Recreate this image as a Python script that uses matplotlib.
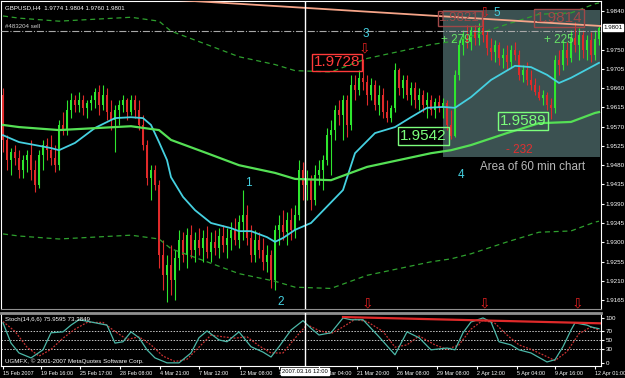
import matplotlib
matplotlib.use('Agg')
import matplotlib.pyplot as plt
from matplotlib.patches import Rectangle
import numpy as np

# GBPUSD H4 candles
opens = [1.9644, 1.9539, 1.9492, 1.9511, 1.9497, 1.9469, 1.9492, 1.9504, 1.9469, 1.9434,
         1.9504, 1.9527, 1.9515, 1.9497, 1.9480, 1.9574, 1.9562, 1.9609, 1.9632, 1.9621,
         1.9632, 1.9614, 1.9625, 1.9632, 1.9651, 1.9621, 1.9644, 1.9604, 1.9586, 1.9609,
         1.9621, 1.9632, 1.9604, 1.9632, 1.9609, 1.9574, 1.9527, 1.9450, 1.9469, 1.9434,
         1.9270, 1.9224, 1.9247, 1.9212, 1.9263, 1.9305, 1.9270, 1.9317, 1.9282, 1.9305,
         1.9287, 1.9310, 1.9277, 1.9301, 1.9287, 1.9315, 1.9294, 1.9310, 1.9329, 1.9305,
         1.9347, 1.9364, 1.9310, 1.9270, 1.9305, 1.9282, 1.9254, 1.9270, 1.9212, 1.9329,
         1.9340, 1.9324, 1.9352, 1.9329, 1.9364, 1.9469, 1.9434, 1.9445, 1.9399, 1.9457,
         1.9469, 1.9492, 1.9550, 1.9562, 1.9609, 1.9597, 1.9632, 1.9574, 1.9667, 1.9656,
         1.9684, 1.9674, 1.9644, 1.9667, 1.9621, 1.9644, 1.9604, 1.9590, 1.9614, 1.9702,
         1.9660, 1.9679, 1.9644, 1.9660, 1.9632, 1.9644, 1.9621, 1.9632, 1.9609, 1.9628,
         1.9614, 1.9625, 1.9574, 1.9548, 1.9691, 1.9761, 1.9777, 1.9768, 1.9796, 1.9777,
         1.9800, 1.9784, 1.9754, 1.9744, 1.9761, 1.9730, 1.9737, 1.9721, 1.9749, 1.9737,
         1.9691, 1.9702, 1.9679, 1.9667, 1.9651, 1.9637, 1.9644, 1.9621, 1.9614, 1.9726,
         1.9714, 1.9749, 1.9730, 1.9777, 1.9761, 1.9784, 1.9749, 1.9772, 1.9737, 1.9774]
highs = [1.9660, 1.9550, 1.9520, 1.9527, 1.9515, 1.9504, 1.9515, 1.9539, 1.9492, 1.9515,
         1.9539, 1.9543, 1.9550, 1.9527, 1.9586, 1.9604, 1.9632, 1.9649, 1.9644, 1.9651,
         1.9644, 1.9632, 1.9644, 1.9660, 1.9667, 1.9667, 1.9660, 1.9632, 1.9621, 1.9632,
         1.9644, 1.9637, 1.9644, 1.9644, 1.9632, 1.9597, 1.9539, 1.9480, 1.9480, 1.9445,
         1.9305, 1.9270, 1.9294, 1.9282, 1.9329, 1.9324, 1.9333, 1.9340, 1.9324, 1.9333,
         1.9329, 1.9338, 1.9324, 1.9329, 1.9333, 1.9340, 1.9333, 1.9347, 1.9357, 1.9364,
         1.9422, 1.9387, 1.9340, 1.9329, 1.9324, 1.9310, 1.9294, 1.9282, 1.9340, 1.9364,
         1.9375, 1.9371, 1.9380, 1.9387, 1.9492, 1.9487, 1.9469, 1.9457, 1.9480, 1.9492,
         1.9504, 1.9567, 1.9586, 1.9621, 1.9632, 1.9644, 1.9644, 1.9691, 1.9691, 1.9702,
         1.9728, 1.9691, 1.9684, 1.9679, 1.9667, 1.9660, 1.9632, 1.9621, 1.9719, 1.9707,
         1.9691, 1.9691, 1.9674, 1.9674, 1.9660, 1.9656, 1.9651, 1.9644, 1.9637, 1.9644,
         1.9637, 1.9632, 1.9609, 1.9702, 1.9772, 1.9796, 1.9807, 1.9805, 1.9807, 1.9812,
         1.9821, 1.9796, 1.9777, 1.9772, 1.9768, 1.9754, 1.9761, 1.9761, 1.9768, 1.9749,
         1.9714, 1.9721, 1.9702, 1.9684, 1.9667, 1.9656, 1.9651, 1.9637, 1.9737, 1.9749,
         1.9772, 1.9768, 1.9796, 1.9814, 1.9800, 1.9796, 1.9784, 1.9791, 1.9796, 1.9804]
lows = [1.9511, 1.9469, 1.9457, 1.9480, 1.9450, 1.9450, 1.9464, 1.9445, 1.9417, 1.9427,
        1.9469, 1.9492, 1.9480, 1.9464, 1.9469, 1.9550, 1.9550, 1.9590, 1.9604, 1.9604,
        1.9597, 1.9590, 1.9609, 1.9614, 1.9597, 1.9609, 1.9586, 1.9562, 1.9511, 1.9574,
        1.9604, 1.9586, 1.9597, 1.9590, 1.9562, 1.9515, 1.9434, 1.9399, 1.9422, 1.9240,
        1.9189, 1.9161, 1.9177, 1.9165, 1.9235, 1.9254, 1.9240, 1.9263, 1.9254, 1.9270,
        1.9254, 1.9263, 1.9254, 1.9270, 1.9263, 1.9277, 1.9263, 1.9282, 1.9294, 1.9287,
        1.9305, 1.9294, 1.9254, 1.9254, 1.9263, 1.9235, 1.9231, 1.9193, 1.9189, 1.9294,
        1.9305, 1.9294, 1.9305, 1.9310, 1.9352, 1.9399, 1.9399, 1.9375, 1.9387, 1.9434,
        1.9422, 1.9480, 1.9457, 1.9539, 1.9574, 1.9539, 1.9546, 1.9562, 1.9632, 1.9644,
        1.9656, 1.9621, 1.9632, 1.9609, 1.9597, 1.9590, 1.9581, 1.9581, 1.9604, 1.9644,
        1.9637, 1.9632, 1.9621, 1.9614, 1.9609, 1.9604, 1.9590, 1.9597, 1.9590, 1.9604,
        1.9590, 1.9562, 1.9542, 1.9546, 1.9679, 1.9737, 1.9754, 1.9749, 1.9761, 1.9761,
        1.9768, 1.9737, 1.9726, 1.9721, 1.9714, 1.9707, 1.9702, 1.9707, 1.9726, 1.9679,
        1.9674, 1.9667, 1.9656, 1.9644, 1.9632, 1.9621, 1.9609, 1.9589, 1.9602, 1.9691,
        1.9702, 1.9714, 1.9721, 1.9744, 1.9726, 1.9730, 1.9726, 1.9721, 1.9726, 1.9760]
closes = [1.9539, 1.9492, 1.9511, 1.9497, 1.9469, 1.9492, 1.9504, 1.9469, 1.9434, 1.9504,
          1.9527, 1.9515, 1.9497, 1.9480, 1.9574, 1.9562, 1.9609, 1.9632, 1.9621, 1.9632,
          1.9614, 1.9625, 1.9632, 1.9651, 1.9621, 1.9644, 1.9604, 1.9586, 1.9609, 1.9621,
          1.9632, 1.9604, 1.9632, 1.9609, 1.9574, 1.9527, 1.9450, 1.9469, 1.9434, 1.9270,
          1.9224, 1.9247, 1.9212, 1.9263, 1.9305, 1.9270, 1.9317, 1.9282, 1.9305, 1.9287,
          1.9310, 1.9277, 1.9301, 1.9287, 1.9315, 1.9294, 1.9310, 1.9329, 1.9305, 1.9347,
          1.9364, 1.9310, 1.9270, 1.9305, 1.9282, 1.9254, 1.9270, 1.9212, 1.9329, 1.9340,
          1.9324, 1.9352, 1.9329, 1.9364, 1.9469, 1.9434, 1.9445, 1.9399, 1.9457, 1.9469,
          1.9492, 1.9550, 1.9562, 1.9609, 1.9597, 1.9632, 1.9574, 1.9667, 1.9656, 1.9684,
          1.9674, 1.9644, 1.9667, 1.9621, 1.9644, 1.9604, 1.9590, 1.9614, 1.9702, 1.9660,
          1.9679, 1.9644, 1.9660, 1.9632, 1.9644, 1.9621, 1.9632, 1.9609, 1.9628, 1.9614,
          1.9625, 1.9574, 1.9548, 1.9691, 1.9761, 1.9777, 1.9768, 1.9796, 1.9777, 1.9800,
          1.9784, 1.9754, 1.9744, 1.9761, 1.9730, 1.9737, 1.9721, 1.9749, 1.9737, 1.9691,
          1.9702, 1.9679, 1.9667, 1.9651, 1.9637, 1.9644, 1.9621, 1.9614, 1.9726, 1.9714,
          1.9749, 1.9730, 1.9777, 1.9761, 1.9784, 1.9749, 1.9772, 1.9737, 1.9774, 1.9801]

# moving averages (cyan fast, green slow) and envelope deviation
fast_idx = [0, 4, 12, 14, 18, 23, 28, 32, 35, 37, 39, 41, 42, 45, 48, 52, 57, 59, 62, 66,
            68, 70, 73, 77, 85, 88, 93, 98, 102, 106, 110, 113, 117, 122, 128, 132, 136,
            139, 142, 147, 149]
fast_ma = [1.9550, 1.9534, 1.9520, 1.9515, 1.9532, 1.9567, 1.9590, 1.9592, 1.9590, 1.9574,
           1.9534, 1.9492, 1.9452, 1.9406, 1.9375, 1.9345, 1.9333, 1.9326, 1.9326, 1.9312,
           1.9301, 1.9310, 1.9329, 1.9345, 1.9422, 1.9508, 1.9555, 1.9569, 1.9592, 1.9614,
           1.9616, 1.9614, 1.9639, 1.9679, 1.9712, 1.9709, 1.9691, 1.9672, 1.9684, 1.9709,
           1.9719]
slow_idx = [0, 4, 14, 24, 32, 39, 42, 51, 59, 68, 73, 82, 91, 99, 107, 112, 117, 126, 134,
            142, 148, 149]
slow_ma = [1.9574, 1.9569, 1.9562, 1.9567, 1.9571, 1.9562, 1.9539, 1.9508, 1.9480, 1.9462,
           1.9448, 1.9445, 1.9476, 1.9492, 1.9508, 1.9515, 1.9527, 1.9555, 1.9578, 1.9581,
           1.9602, 1.9604]
env_dev = 0.013

# stochastic (14,6,6)
st_idx = [0, 2, 4, 7, 10, 12, 15, 17, 19, 22, 26, 28, 30, 32, 34, 36, 38, 41, 44, 47, 49,
          51, 54, 56, 59, 62, 65, 67, 69, 72, 75, 77, 79, 82, 85, 87, 90, 94, 98, 101, 104,
          107, 111, 113, 115, 117, 120, 122, 124, 127, 129, 132, 136, 138, 140, 142, 143,
          146, 147, 149]
st_main = [89, 44, 22, 11, 29, 67, 69, 84, 96, 91, 84, 44, 47, 69, 56, 29, 11, 0, 0, 22, 56,
           71, 51, 47, 69, 36, 24, 13, 36, 73, 94, 77, 62, 67, 100, 96, 96, 58, 18, 69, 56,
           29, 33, 29, 67, 91, 100, 91, 47, 40, 29, 22, 2, 7, 36, 73, 89, 84, 80, 76]
sig_idx = [0, 3, 6, 9, 12, 15, 18, 21, 25, 28, 31, 34, 37, 40, 43, 46, 49, 52, 55, 58, 61,
           64, 67, 70, 73, 76, 79, 82, 85, 88, 91, 95, 98, 101, 104, 108, 111, 114, 117,
           120, 123, 126, 129, 132, 135, 138, 141, 144, 147, 149]
st_signal = [92, 70, 35, 15, 30, 55, 75, 90, 90, 70, 52, 58, 40, 15, 3, 8, 35, 62, 58, 55,
             58, 38, 22, 22, 55, 85, 72, 65, 80, 97, 92, 70, 35, 40, 60, 40, 30, 40, 75, 95,
             88, 62, 40, 30, 18, 5, 25, 65, 80, 73]

price_ticks = [1.9840, 1.9750, 1.9705, 1.9660, 1.9615, 1.9570, 1.9525, 1.9480, 1.9435,
               1.9390, 1.9345, 1.9300, 1.9255, 1.9210, 1.9165]
time_pos = [0, 9.5, 19.25, 29.25, 39.25, 49, 59.25, 69, 79, 88.5, 98.5, 108.5, 118.5,
            128.5, 138, 148]
time_labels = ['15 Feb 2007', '19 Feb 16:00', '25 Feb 17:00', '28 Feb 08:00', '4 Mar 21:00',
               '7 Mar 12:00', '12 Mar 08:00', '14 Mar 16:00', '20 Mar 04:00', '21 Mar 20:00',
               '26 Mar 08:00', '29 Mar 08:00', '2 Apr 12:00', '5 Apr 04:00', '9 Apr 16:00',
               '12 Apr 01:00']

small = ['Liberation Sans Narrow', 'Liberation Sans']
big = ['Liberation Sans', 'DejaVu Sans']
UP, DN = '#2ee62e', '#e02a2a'
CY = '#45d0e0'

fig = plt.figure(figsize=(6.25, 3.78), dpi=100, facecolor='black')
ax = fig.add_axes([1/625, 69/378, 600/625, 308/378], facecolor='black')
ax2 = fig.add_axes([1/625, 12/378, 600/625, 53/378], facecolor='black')

n = len(closes)
x = np.arange(n)
o, h, l, c = map(np.array, (opens, highs, lows, closes))
col = np.where(c >= o, UP, DN)

# 60 min area
ax.add_patch(Rectangle((110, 1.9499), 39.3, 1.9842 - 1.9499, fc='#3b5151', ec='none', zorder=1))

ax.vlines(x, l, h, colors=col, lw=0.8, zorder=2)
ax.bar(x, np.abs(c - o) + 0.00004, bottom=np.minimum(o, c), width=0.5, color=col, zorder=2)

ax.plot(fast_idx, fast_ma, color=CY, lw=1.3, zorder=3)
ax.plot(slow_idx, slow_ma, color='#55e055', lw=1.6, zorder=3)
env = np.array(slow_ma)
ax.plot(slow_idx, env * (1 + env_dev), color='#2ea02e', lw=0.9, dashes=(4, 3), zorder=3)
ax.plot(slow_idx, env * (1 - env_dev), color='#2ea02e', lw=0.9, dashes=(4, 3), zorder=3)

# trendline, sell order, vertical marker
ax.plot([43, 149.5], [1.9866, 1.9805], color='#f5a488', lw=1.3, zorder=3)
ax.axhline(1.9794, color='#a8a8a8', lw=0.8, ls='-.', zorder=3)
ax.text(0.5, 1.9797, '#483204 sell', color='#d0d0d0', fontsize=4.4, family=small, va='bottom')
ax.axvline(75.5, color='white', lw=1, zorder=3)
ax2.axvline(75.5, color='white', lw=1, zorder=3)

def box(xx, yy, s, colr, size=11):
    ax.text(xx, yy, s, color=colr, fontsize=size, family=big, ha='center', va='center',
            zorder=5, bbox=dict(boxstyle='square,pad=0.12', fc='none', ec=colr, lw=1))

box(83.5, 1.9720, '1.9728', '#ff3a3a')
box(105.1, 1.9548, '1.9542', '#7cff7c')
box(130, 1.9583, '1.9589', '#7cff7c')
box(114.2, 1.9823, '1.9821', '#a04848', 9.5)
box(139, 1.9823, '1.9814', '#a04848', 11)

for xx, yy, s in [(113.2, 1.9772, '+ 279'), (139, 1.9772, '+ 225')]:
    ax.text(xx, yy, s, color='#66e066', fontsize=8.5, family=big, ha='center', va='center', zorder=5)
ax.text(129, 1.9515, '- 232', color='#e03030', fontsize=8.5, family=big, ha='center', va='center', zorder=5)

for xx, yy, s in [(123.5, 1.9835, '5'), (90.75, 1.9786, '3'), (61.25, 1.9438, '1'),
                  (69.5, 1.9161, '2'), (114.5, 1.9457, '4')]:
    ax.text(xx, yy, s, color=CY, fontsize=8.5, family=big, ha='center', va='center', zorder=5)
ax.text(119.3, 1.9476, 'Area of 60 min chart', color='#b8b8b8', fontsize=8.4, family=big,
        ha='left', va='center', zorder=5)

for xx, yy in [(90.25, 1.9752), (91, 1.9158), (120.25, 1.9158), (143.5, 1.9158), (120.25, 1.9836)]:
    ax.text(xx, yy, '\u21e9', color='#e02020', fontsize=10, ha='center', va='center',
            zorder=4, family='DejaVu Sans')

ax.text(0.006, 0.985, 'GBPUSD,H4  1.9774 1.9804 1.9760 1.9801', transform=ax.transAxes,
        color='white', fontsize=4.4, family=small, va='top')

ax.set_xlim(-0.5, n - 0.5)
ax.set_ylim(1.91442, 1.98634)
ax.yaxis.tick_right()
ax.set_yticks(price_ticks)
ax.set_yticklabels(['%.4f' % p for p in price_ticks], family=small)
ax.tick_params(axis='y', colors='white', labelsize=4.5, length=2.5, pad=1)
ax.set_xticks([])
for s in ax.spines.values():
    s.set_color('white')
    s.set_linewidth(0.8)
ax.spines['bottom'].set_color('#909090')
ax.text(1.004, 1.9801, '1.9801', transform=ax.get_yaxis_transform(), color='black',
        fontsize=4.5, family=small, va='center', ha='left', clip_on=False,
        bbox=dict(boxstyle='square,pad=0.12', fc='white', ec='white'))

# stochastic panel
for lv in (70, 50, 30):
    ax2.axhline(lv, color='#c8c8c8', lw=0.7, ls=(0, (1.5, 1.5)))
ax2.plot(sig_idx, st_signal, color='#c83232', lw=0.9, ls=(0, (1.5, 1.2)))
ax2.plot(st_idx, st_main, color='#4cb8a8', lw=0.9)
ax2.plot([85, 149.5], [102, 88], color='#e02a2a', lw=1.6)
ax2.text(0.006, 0.93, 'Stoch(14,6,6) 75.9595 73.3849', transform=ax2.transAxes,
         color='white', fontsize=4.4, family=small, va='top')
ax2.text(0.006, 0.04, 'UGMFX, \u00a9 2001-2007 MetaQuotes Software Corp.', transform=ax2.transAxes,
         color='white', fontsize=4.4, family=small, va='bottom')
ax2.set_xlim(-0.5, n - 0.5)
ax2.set_ylim(-7, 111)
ax2.yaxis.tick_right()
ax2.set_yticks([0, 30, 50, 70, 100])
ax2.set_yticklabels(['0', '30', '50', '70', '100'], family=small)
ax2.tick_params(axis='y', colors='white', labelsize=4.5, length=2.5, pad=1)
ax2.set_xticks(time_pos)
ax2.set_xticklabels(time_labels, family=small, ha='left')
ax2.tick_params(axis='x', colors='white', labelsize=3.9, length=2.5, pad=1)
for s in ax2.spines.values():
    s.set_color('white')
    s.set_linewidth(0.8)
ax2.spines['top'].set_color('#909090')
ax2.spines['top'].set_linewidth(2)
ax2.text(75.5, -0.06, '2007.03.16 12:00', transform=ax2.get_xaxis_transform(), color='black',
         fontsize=4.2, family=small, ha='center', va='top', clip_on=False, zorder=6,
         bbox=dict(boxstyle='square,pad=0.12', fc='white', ec='white'))

fig.savefig('out.png', dpi=100, facecolor='black')
